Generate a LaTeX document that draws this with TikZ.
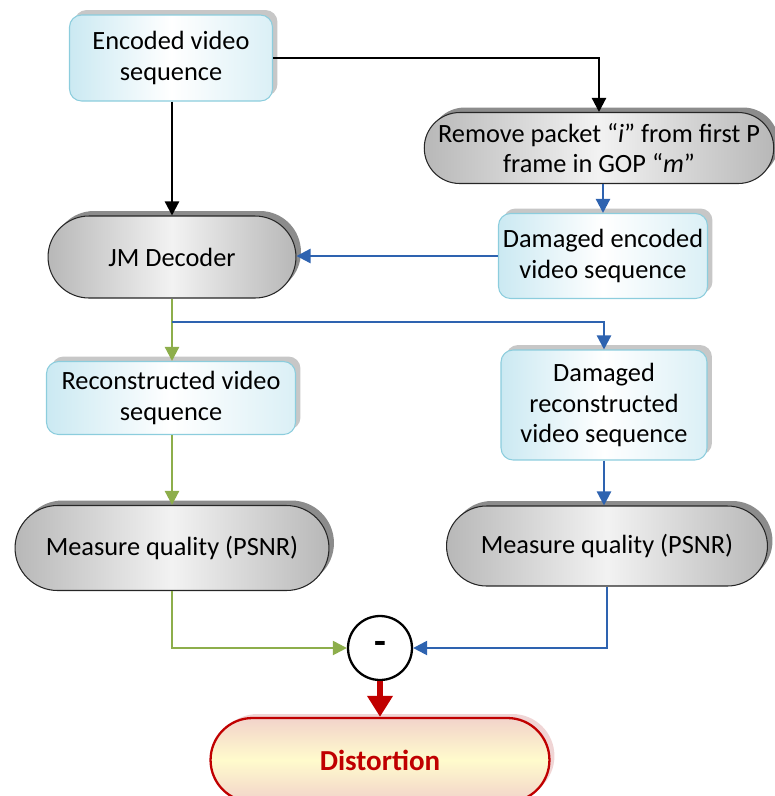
\documentclass[tikz,border=0pt]{standalone}
\usepackage{fontspec}
\setmainfont{Carlito}
\usepackage{tikz}
\usetikzlibrary{arrows.meta,shapes.misc,shadows}
\definecolor{cK}{HTML}{000000}
\definecolor{cG}{HTML}{8DAE4B}
\definecolor{cB}{HTML}{2E63B0}
\definecolor{cR}{HTML}{C00000}
\definecolor{tealedge}{HTML}{8CCDDD}
\definecolor{tealfill}{HTML}{CBE9F2}
\definecolor{pinkfill}{HTML}{F2D3CB}
\definecolor{creamfill}{HTML}{FFFBCC}
\definecolor{pinkshade}{HTML}{F0D5D5}

\begin{document}
\begin{tikzpicture}[x=0.02cm,y=-0.02cm,
  txt/.style={font=\fontsize{15pt}{17.5pt}\selectfont,align=center,inner sep=2pt},
  datbox/.style={txt,rectangle,rounded corners=0.24cm,draw=tealedge,line width=0.6pt,
    left color=tealfill,right color=tealfill!70,middle color=white,
    drop shadow={shadow xshift=0.1cm,shadow yshift=0.1cm,fill=black!22,opacity=1}},
  procbox/.style={txt,rounded rectangle,draw=black!85,line width=0.6pt,
    left color=black!28,right color=black!28,middle color=black!5,
    drop shadow={shadow xshift=0.1cm,shadow yshift=0.1cm,fill=black!45,opacity=1}},
  endbox/.style={txt,rounded rectangle,draw=cR,line width=1.3pt,
    top color=pinkfill,bottom color=pinkfill,middle color=creamfill,
    font=\fontsize{16.5pt}{19pt}\selectfont\bfseries,text=cR,
    drop shadow={shadow xshift=0.1cm,shadow yshift=0.08cm,fill=pinkshade,opacity=1}},
  subnode/.style={circle,draw=black,line width=1.3pt,fill=white,minimum size=1.28cm,inner sep=0pt,
    font=\fontsize{22pt}{24pt}\selectfont\bfseries},
  arK/.style={-{Triangle[length=8pt,width=8pt]},draw=cK,line width=1.3pt},
  arG/.style={-{Triangle[length=8pt,width=8pt]},draw=cG,line width=1.3pt},
  arB/.style={-{Triangle[length=8pt,width=8pt]},draw=cB,line width=1.3pt},
  arR/.style={-{Triangle[length=12pt,width=14pt]},draw=cR,line width=3.2pt}]

\useasboundingbox (0,0) rectangle (775,796);
\clip (0,0) rectangle (775,796);

% ---------- input and packet removal ----------
\node[datbox,minimum width=4.06cm,minimum height=1.72cm] (enc) at (171,58) {Encoded video\\sequence};
\node[procbox,minimum width=6.96cm,minimum height=1.42cm] (rem) at (599,148)
  {Remove packet “\textit{i}” from first P\\frame in GOP “\textit{m}”};
\node[datbox,minimum width=4.18cm,minimum height=1.7cm] (dmg) at (603,256) {Damaged encoded\\video sequence};

% ---------- decoding ----------
\node[procbox,minimum width=5.1cm,minimum height=1.64cm] (jm) at (172,257) {JM Decoder};
\node[datbox,minimum width=4.98cm,minimum height=1.46cm] (rec) at (171,398) {Reconstructed video\\sequence};
\node[datbox,minimum width=4.12cm,minimum height=2.2cm] (drec) at (604,405) {Damaged\\reconstructed\\video sequence};

% ---------- quality and difference ----------
\node[procbox,minimum width=6.42cm,minimum height=1.7cm] (mql) at (172,548) {Measure quality (PSNR)};
\node[procbox,minimum width=6.56cm,minimum height=1.6cm] (mqr) at (607,546) {Measure quality (PSNR)};
\node[subnode] (sub) at (380,648) {-};
\node[endbox,minimum width=6.92cm,minimum height=1.68cm] (dist) at (380,760) {Distortion};

% ---------- connectors ----------
\draw[arK] (enc.south -| jm.north) -- (jm.north);
\draw[arK] (enc.east) -| (rem.north);
\draw[arB] (rem.south -| dmg.north) -- (dmg.north);
\draw[arB] (dmg.west) -- (dmg.west -| jm.east);
\draw[arG] (jm.south) -- (jm.south |- rec.north);
\coordinate (split) at (jm.south |- 0,322);
\draw[arB] (split) -| (drec.north);
\draw[arG] (rec.south -| mql.north) -- (mql.north);
\draw[arB] (drec.south) -- (drec.south |- mqr.north);
\draw[arG] (mql.south) |- (sub.west);
\draw[arB] (mqr.south) |- (sub.east);
\draw[arR] (sub.south) -- (dist.north);
\end{tikzpicture}
\end{document}
